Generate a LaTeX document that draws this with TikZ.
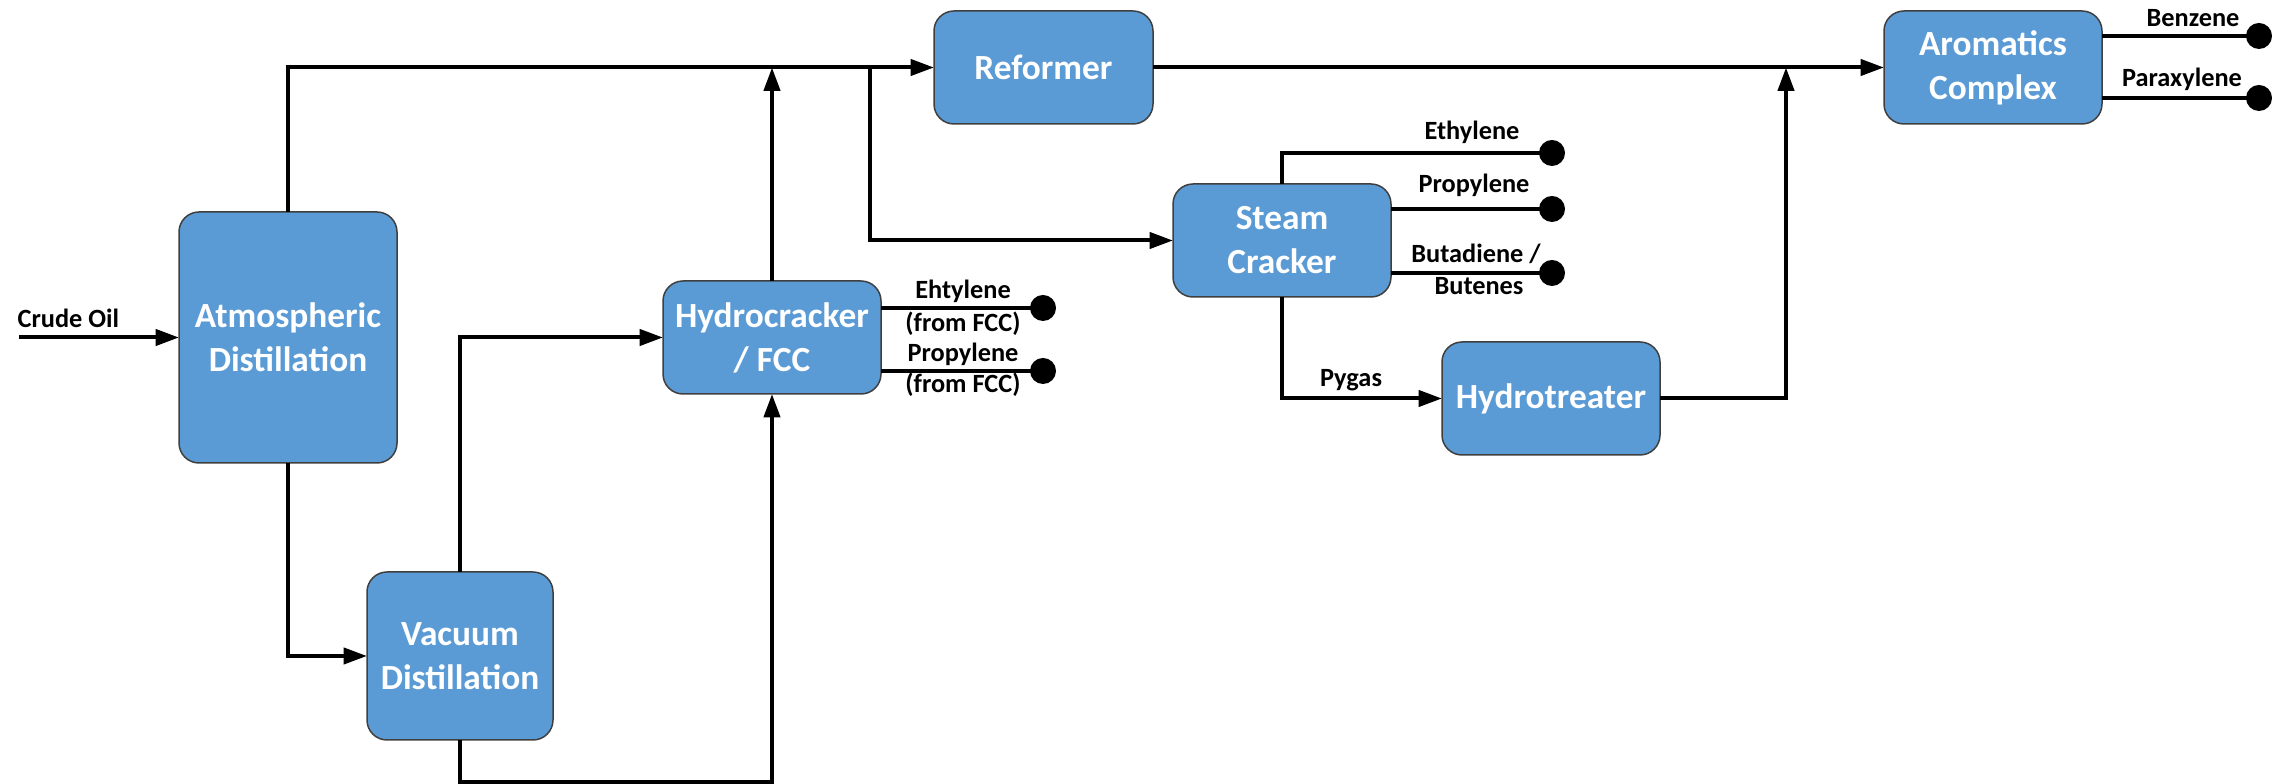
\documentclass[tikz,border=0pt]{standalone}
\usepackage{fontspec}
\setmainfont{Carlito}
\usetikzlibrary{arrows.meta}

\definecolor{unitblue}{HTML}{5B9BD5}
\definecolor{unitedge}{HTML}{3F3F3F}

\tikzset{
  unit/.style n args={2}{draw=unitedge, line width=0.45pt, fill=unitblue,
    rounded corners=6pt, inner sep=0pt, outer sep=0pt,
    minimum width={#1*0.3pt}, minimum height={#2*0.3pt},
    align=center, text=white, font=\fontsize{10.6}{13.2}\selectfont\bfseries},
  flow/.style={line width=1.2pt, -{Triangle[length=7pt,width=4.8pt]}},
  stream/.style={line width=1.2pt},
  lbl/.style={font=\fontsize{7.9}{9.5}\selectfont\bfseries, inner sep=0pt, anchor=base},
  enddot/.style={circle, fill=black, inner sep=0pt, minimum size=7.8pt},
}

\begin{document}
\begin{tikzpicture}[x=0.3pt, y=-0.3pt]
\useasboundingbox (0,0) rectangle (2285,784);

% process units
\node[unit={218}{251}] (atm) at (288,337.5) {Atmospheric\\Distillation};
\node[unit={186}{168}] (vac) at (460,656) {Vacuum\\Distillation};
\node[unit={218}{113}] (hc)  at (772,337.5) {Hydrocracker\\/ FCC};
\node[unit={219}{113}] (ref) at (1043.5,67.5) {Reformer};
\node[unit={218}{113}] (sc)  at (1282,240.5) {Steam\\Cracker};
\node[unit={218}{113}] (ht)  at (1551,398.5) {Hydrotreater};
\node[unit={218}{113}] (aro) at (1993,67.5) {Aromatics\\Complex};

% free ends and junctions
\coordinate (crude) at (19,337.5);
\coordinate (naphtha) at (870,67.5);
\coordinate (aromjoin) at (1786,67.5);

% product end points
\node[enddot] (hcE) at (1043,308) {};
\node[enddot] (hcP) at (1043,371) {};
\node[enddot] (scE) at (1552,153) {};
\node[enddot] (scP) at (1552,209) {};
\node[enddot] (scB) at (1552,273) {};
\node[enddot] (aroB) at (2259,36) {};
\node[enddot] (aroX) at (2259,98) {};

% main flows
\draw[flow] (crude) -- (atm.west);
\draw[flow] (atm.north) |- (ref.west);
\draw[flow] (atm.south) |- (vac.west);
\draw[flow] (vac.north) |- (hc.west);
\draw[flow] (vac.south) -- ++(0,42) -| (hc.south);
\draw[flow] (hc.north) -- (hc.north |- ref.west);
\draw[flow] (naphtha) |- (sc.west);
\draw[flow] (ref.east) -- (aro.west);
\draw[flow] (sc.south) |- (ht.west);
\draw[flow] (ht.east) -| (aromjoin);

% product streams
\draw[stream] (hcE -| hc.east) -- (hcE.center);
\draw[stream] (hcP -| hc.east) -- (hcP.center);
\draw[stream] (sc.north) |- (scE.center);
\draw[stream] (scP -| sc.east) -- (scP.center);
\draw[stream] (scB -| sc.east) -- (scB.center);
\draw[stream] (aroB -| aro.east) -- (aroB.center);
\draw[stream] (aroX -| aro.east) -- (aroX.center);

% stream labels
\node[lbl, anchor=base west] (lcrude) at (17,328) {Crude Oil};
\node[lbl] (l1) at (963,299) {Ehtylene};
\node[lbl] (l2) at (963,332) {(from FCC)};
\node[lbl] (l3) at (963,362) {Propylene};
\node[lbl] (l4) at (963,393) {(from FCC)};
\node[lbl] (l5) at (1472,140) {Ethylene};
\node[lbl] (l6) at (1474,193) {Propylene};
\node[lbl] (l7) at (1476,263) {Butadiene /};
\node[lbl] (l8) at (1479,295) {Butenes};
\node[lbl] (l9) at (1351,387) {Pygas};
\node[lbl] (l10) at (2193,27) {Benzene};
\node[lbl] (l11) at (2182,87) {Paraxylene};
\end{tikzpicture}
\end{document}
